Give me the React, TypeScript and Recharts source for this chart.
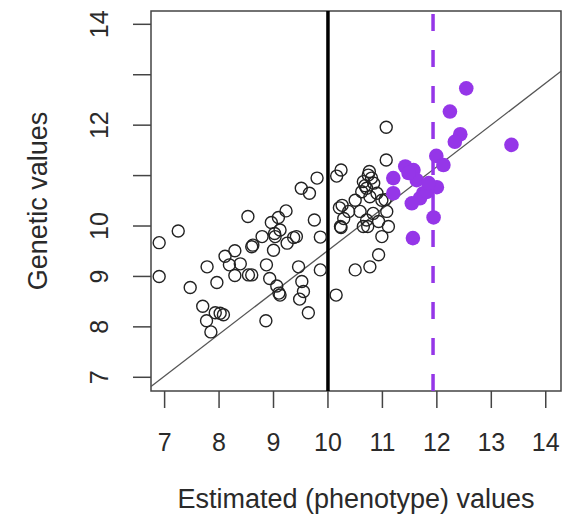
import React from "react";
import { ScatterChart, Scatter, XAxis, YAxis, ReferenceLine, ReferenceArea } from "recharts";

const FONT = "'Liberation Sans', Arial, sans-serif";
const PURPLE = "#9536E8";
const INK = "#2a2a2a";

// axis ticks (R leaves out 11 and 13 on the y axis, labels would overlap)
const xTicks = [7, 8, 9, 10, 11, 12, 13, 14];
const yTicks = [7, 8, 9, 10, 11, 12, 13, 14];
const yTickLabels = [7, 8, 9, 10, 12, 14];

// whole population (open circles)
const popX = [
  6.9, 6.9, 7.25, 7.47, 7.7, 7.77, 7.85, 7.78, 7.96, 7.93, 8.02, 8.08, 8.11, 8.29, 8.19, 8.29, 8.39,
  8.54, 8.6, 8.6, 8.53, 8.79, 8.87, 8.86, 8.93, 8.96, 9.0, 9.03, 9.09, 9.12, 9.06, 9.12, 9.1, 9.23,
  9.25, 9.37, 9.42, 9.46, 9.52, 9.55, 9.48, 9.64, 9.51, 9.66, 9.8, 9.75, 9.86, 9.86, 8.62, 9.02,
  10.16, 10.24, 10.15, 10.21, 10.26, 10.24, 10.38, 10.5, 10.5, 10.59, 10.62, 10.65, 10.74, 10.84,
  10.71, 10.9, 10.77, 10.99, 10.76, 10.77, 10.73, 10.83, 10.93, 10.71, 10.93, 10.65, 11.11, 10.99,
  11.05, 11.08, 11.07, 11.07, 10.29, 10.23, 10.8, 10.68,
];
const popY = [
  9.67, 9.0, 9.9, 8.78, 8.41, 8.12, 7.9, 9.19, 8.88, 8.28, 8.27, 8.24, 9.4, 9.51, 9.23, 9.02, 9.25,
  9.03, 9.03, 9.59, 10.19, 9.79, 9.23, 8.12, 8.96, 10.07, 9.52, 9.79, 10.17, 9.92, 8.81, 8.63, 8.67, 10.3,
  9.66, 9.77, 9.79, 9.19, 8.9, 8.7, 8.55, 8.28, 10.75, 10.65, 10.95, 10.12, 9.78, 9.13, 9.62, 9.85,
  10.99, 11.11, 8.63, 10.36, 10.41, 9.97, 10.29, 10.51, 9.13, 10.29, 10.68, 10.88, 11.01, 10.85,
  10.75, 10.65, 10.58, 10.51, 11.08, 9.19, 9.99, 10.25, 10.09, 10.12, 9.43, 9.99, 9.99, 9.79,
  10.52, 10.29, 11.96, 11.31, 10.15, 9.99, 10.95, 10.8,
];

// selected individuals (filled purple)
const selX = [
  12.54, 12.24, 12.43, 12.33, 13.37, 11.99, 12.12, 11.42, 11.57, 11.2, 11.63, 11.88, 12.0, 11.75,
  11.2, 11.69, 11.54, 11.94, 11.56, 11.48, 11.82, 11.85,
];
const selY = [
  12.73, 12.27, 11.82, 11.67, 11.61, 11.39, 11.21, 11.18, 11.11, 10.95, 10.91, 10.78, 10.77, 10.65,
  10.65, 10.55, 10.45, 10.17, 9.76, 11.05, 10.68, 10.85,
];

const popMean = 10;
const selMean = 11.93;
const fitIntercept = 1.215;
const fitSlope = 0.83;

const X_DOMAIN: [number, number] = [6.75, 14.28];
const Y_DOMAIN: [number, number] = [6.728, 14.264];

const popData = popX.map((x, i) => ({ x, y: popY[i] }));
const selData = selX.map((x, i) => ({ x, y: selY[i] }));

function XTick({ x, payload }: any) {
  return (
    <text x={x} y={451} textAnchor="middle" fontSize={25} fontFamily={FONT} fill={INK}>
      {payload.value}
    </text>
  );
}

function YTick({ y, payload }: any) {
  if (!yTickLabels.includes(payload.value)) return <g />;
  return (
    <text
      x={108}
      y={y}
      transform={`rotate(-90, 108, ${y})`}
      textAnchor="middle"
      fontSize={25}
      fontFamily={FONT}
      fill={INK}
    >
      {payload.value}
    </text>
  );
}

const openCircle = (p: any) => (
  <circle cx={p.cx} cy={p.cy} r={6} fill="none" stroke="#222" strokeWidth={1.4} />
);
const filledCircle = (p: any) => <circle cx={p.cx} cy={p.cy} r={7.3} fill={PURPLE} />;

export default function App() {
  return (
    <div style={{ position: "absolute", left: 0, top: 0, width: 570, height: 523, background: "#fff" }}>
      <ScatterChart width={570} height={523} margin={{ top: 11, right: 9, left: 0, bottom: 0 }}>
        <XAxis
          type="number"
          dataKey="x"
          domain={X_DOMAIN}
          ticks={xTicks}
          allowDataOverflow
          axisLine={false}
          tickSize={17}
          tickLine={{ stroke: "#444", strokeWidth: 1.5 }}
          tick={<XTick />}
          height={132}
        />
        <YAxis
          type="number"
          dataKey="y"
          domain={Y_DOMAIN}
          ticks={yTicks}
          allowDataOverflow
          axisLine={false}
          tickSize={18}
          tickLine={{ stroke: "#444", strokeWidth: 1.5 }}
          tick={<YTick />}
          width={151}
        />
        <ReferenceArea
          x1={X_DOMAIN[0]}
          x2={X_DOMAIN[1]}
          y1={Y_DOMAIN[0]}
          y2={Y_DOMAIN[1]}
          fill="none"
          fillOpacity={0}
          stroke="#444"
          strokeWidth={1.5}
          ifOverflow="visible"
        />
        <Scatter data={popData} shape={openCircle} isAnimationActive={false} />
        <Scatter data={selData} shape={filledCircle} isAnimationActive={false} />
        <ReferenceLine
          segment={[
            { x: X_DOMAIN[0], y: fitIntercept + fitSlope * X_DOMAIN[0] },
            { x: X_DOMAIN[1], y: fitIntercept + fitSlope * X_DOMAIN[1] },
          ]}
          stroke="#555"
          strokeWidth={1.3}
        />
        <ReferenceLine x={popMean} stroke="#000" strokeWidth={3.5} />
        <ReferenceLine x={selMean} stroke={PURPLE} strokeWidth={3.5} strokeDasharray="17 19" />
      </ScatterChart>
      <svg
        width={570}
        height={523}
        style={{ position: "absolute", left: 0, top: 0, pointerEvents: "none" }}
      >
        <text x={356} y={508} textAnchor="middle" fontSize={27} fontFamily={FONT} fill={INK}>
          Estimated (phenotype) values
        </text>
        <text
          x={46.5}
          y={201}
          transform="rotate(-90, 46.5, 201)"
          textAnchor="middle"
          fontSize={27}
          fontFamily={FONT}
          fill={INK}
        >
          Genetic values
        </text>
      </svg>
    </div>
  );
}
